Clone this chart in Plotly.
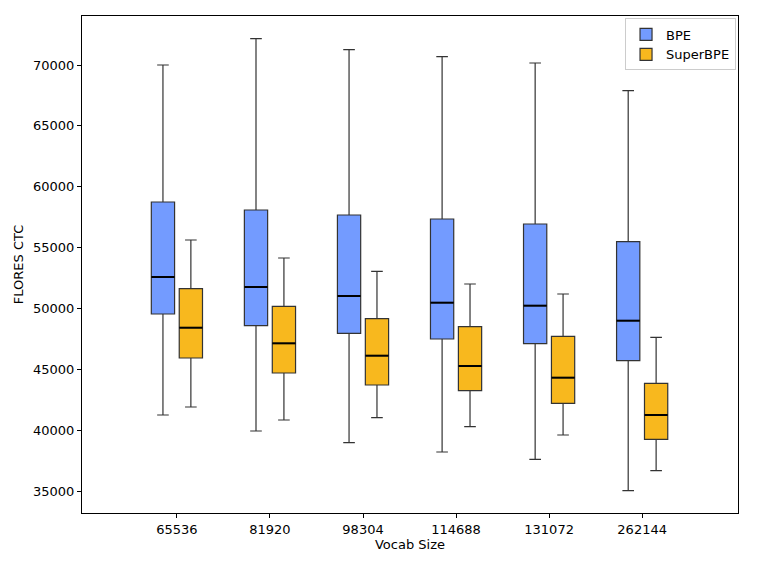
import plotly.graph_objects as go

vocab_sizes = ["65536", "81920", "98304", "114688", "131072", "262144"]

bpe_low = [41244, 39929, 38970, 38204, 37602, 35027]
bpe_q1 = [49542, 48582, 47954, 47488, 47104, 45708]
bpe_med = [52582, 51760, 51021, 50473, 50227, 48994]
bpe_q3 = [58744, 58087, 57676, 57347, 56937, 55486]
bpe_high = [70000, 72161, 71261, 70682, 70164, 67892]

sup_low = [41901, 40833, 41025, 40286, 39601, 36670]
sup_q1 = [45927, 44695, 43709, 43243, 42202, 39246]
sup_med = [48417, 47132, 46118, 45270, 44312, 41244]
sup_q3 = [51621, 50173, 49158, 48501, 47708, 43845]
sup_high = [55622, 54143, 53047, 52007, 51185, 47626]

pos = list(range(len(vocab_sizes)))
off = 0.15
bw = 0.25

fig = go.Figure()


def add_series(name, sign, low, q1, med, q3, high, color):
    xs = [p + sign * off for p in pos]
    fig.add_trace(go.Box(
        name=name,
        x=xs,
        q1=q1, median=med, q3=q3,
        lowerfence=low, upperfence=high,
        width=bw, whiskerwidth=0.5,
        fillcolor=color,
        line=dict(color="#333333", width=1.2),
        boxpoints=False,
    ))
    mx, my = [], []
    for x, m in zip(xs, med):
        mx += [x - bw / 2, x + bw / 2, None]
        my += [m, m, None]
    fig.add_trace(go.Scatter(
        x=mx, y=my, mode="lines",
        line=dict(color="black", width=2),
        showlegend=False, hoverinfo="skip",
    ))


add_series("BPE", -1, bpe_low, bpe_q1, bpe_med, bpe_q3, bpe_high, "#739BFF")
add_series("SuperBPE", 1, sup_low, sup_q1, sup_med, sup_q3, sup_high, "#F8B81E")

tfont = dict(family="DejaVu Sans", size=13, color="black")
fig.update_layout(
    width=749, height=556,
    margin=dict(l=74, r=19, t=8, b=51),
    paper_bgcolor="white", plot_bgcolor="white",
    font=tfont,
    boxmode="overlay",
    showlegend=True,
    legend=dict(
        x=0.997, y=0.995, xanchor="right", yanchor="top",
        bgcolor="rgba(255,255,255,0.8)", bordercolor="#cccccc", borderwidth=1,
        font=dict(family="DejaVu Sans", size=13),
        tracegroupgap=2,
    ),
    xaxis=dict(
        range=[-1.02, 6.03],
        tickmode="array", tickvals=pos, ticktext=vocab_sizes,
        tickfont=tfont,
        showline=True, linecolor="black", linewidth=1, mirror=True,
        ticks="outside", ticklen=4, tickcolor="black",
        showgrid=False, zeroline=False,
        title=dict(text="Vocab Size", standoff=2, font=tfont),
    ),
    yaxis=dict(
        range=[33193, 74026],
        tickmode="array", tickvals=[35000, 40000, 45000, 50000, 55000, 60000, 65000, 70000],
        ticktext=["35000", "40000", "45000", "50000", "55000", "60000", "65000", "70000"],
        tickfont=tfont,
        showline=True, linecolor="black", linewidth=1, mirror=True,
        ticks="outside", ticklen=4, tickcolor="black",
        showgrid=False, zeroline=False,
        title=dict(text="FLORES CTC", standoff=6, font=tfont),
    ),
)

fig.write_html("out.html", config={"displayModeBar": False})
